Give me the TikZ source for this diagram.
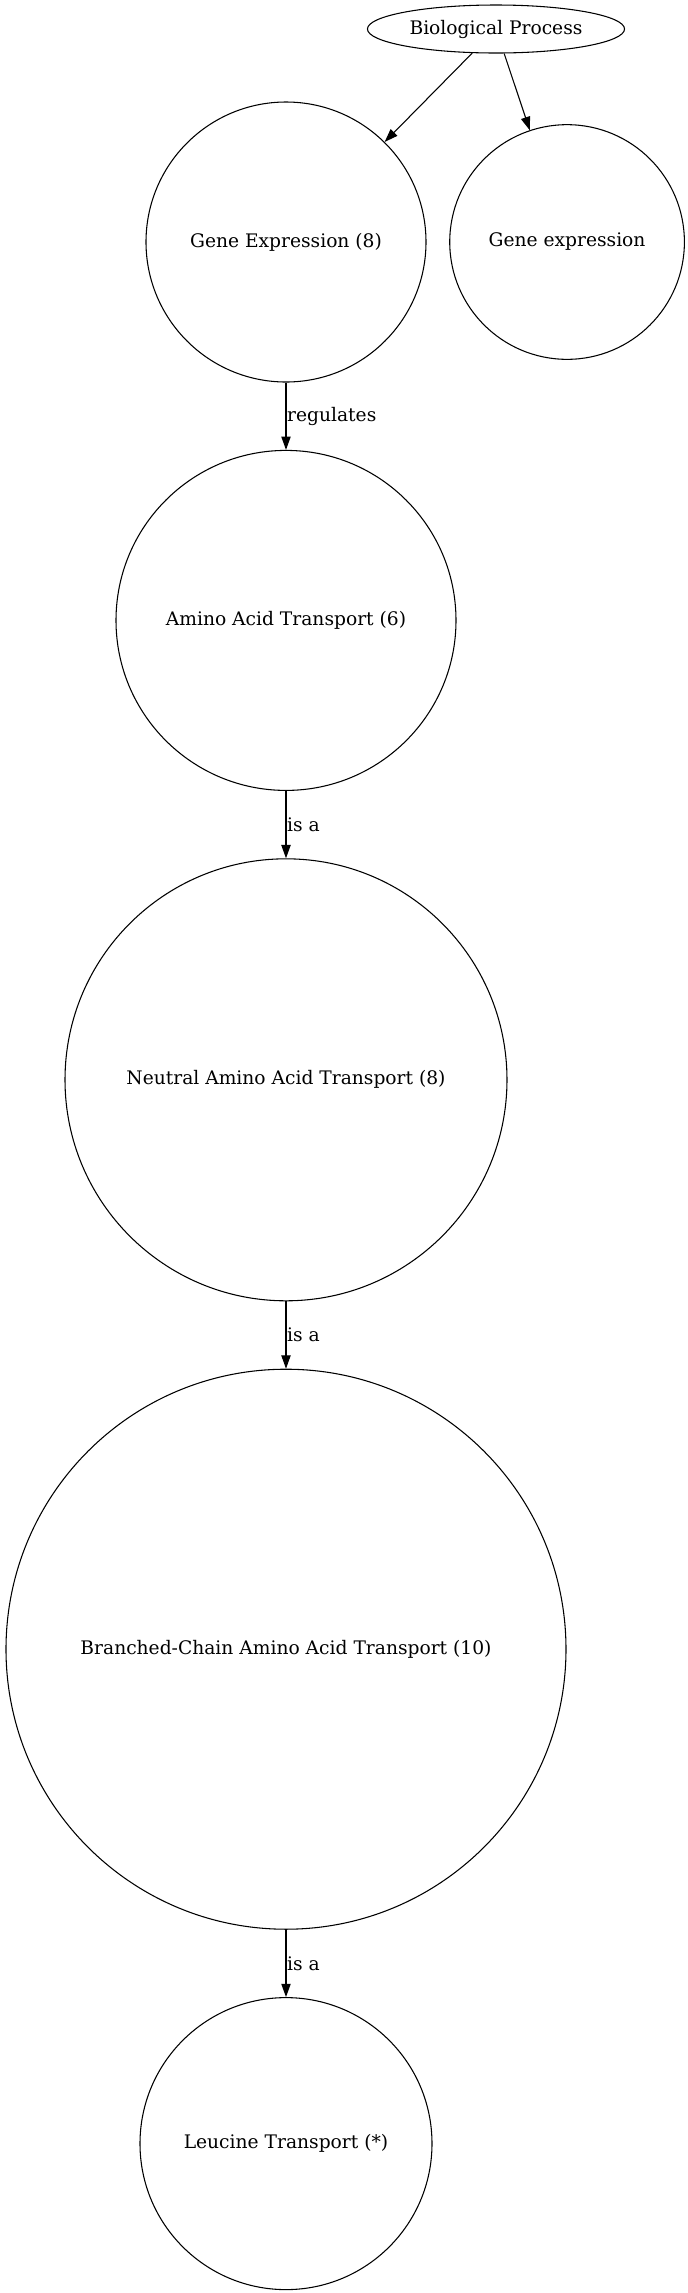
\documentclass[tikz,border=0pt]{standalone}
\usepackage{fontspec}
\setmainfont{DejaVu Serif}
\usepackage{tikz}
\usetikzlibrary{arrows.meta, positioning, shapes.geometric}

\begin{document}
\begin{tikzpicture}[x=0.75pt, y=-0.75pt, >={Triangle[length=10pt, width=7pt]}, node distance=50.5pt, line width=0.8pt,
    every node/.style={font=\fontsize{14pt}{17pt}\selectfont},
    term/.style={draw, circle, inner sep=0pt},
    lbl/.style={midway, right, inner sep=0.5pt}]
        \useasboundingbox (0,0) rectangle (688,2293);
        \node[draw, ellipse, minimum width=190.5pt, minimum height=36pt] (bp) at (496,29) {Biological Process};
        \node[term, minimum size=210pt] (ge) at (286,242) {Gene Expression (8)};
        \node[term, minimum size=176pt, right=17pt of ge] (gx) {Gene expression};
        \node[term, minimum size=255pt, below=of ge] (aat) {Amino Acid Transport (6)};
        \node[term, minimum size=331.5pt, below=of aat] (naat) {Neutral Amino Acid Transport (8)};
        \node[term, minimum size=420pt, below=of naat] (bcaat) {Branched-Chain Amino Acid Transport (10)};
        \node[term, minimum size=219pt, below=of bcaat] (lt) {Leucine Transport (*)};
        \draw[->] (bp) -- (ge);
        \draw[->] (bp) -- (gx);
        \draw[->] (ge) -- node[lbl] {regulates} (aat);
        \draw[->] (aat) -- node[lbl] {is a} (naat);
        \draw[->] (naat) -- node[lbl] {is a} (bcaat);
        \draw[->] (bcaat) -- node[lbl] {is a} (lt);
      \end{tikzpicture}
\end{document}
